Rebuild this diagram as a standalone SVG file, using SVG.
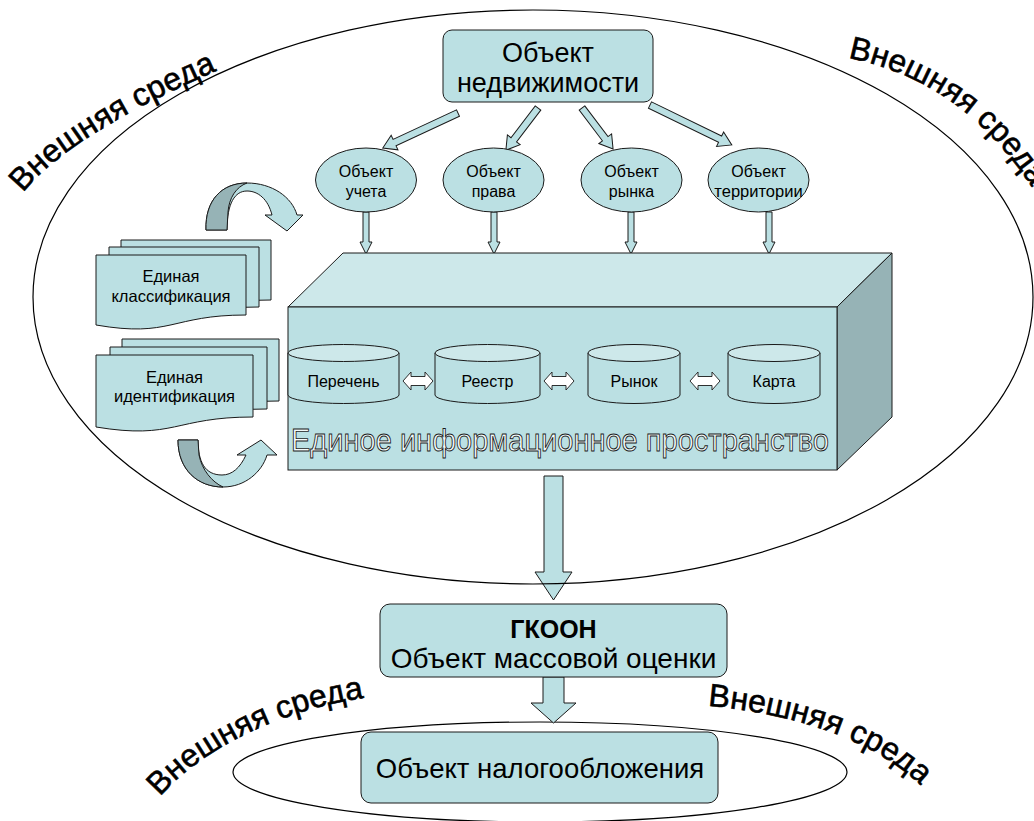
<svg xmlns="http://www.w3.org/2000/svg" width="1034" height="821" viewBox="0 0 1034 821">
  <style>
    .fill { fill: #BBE0E3; stroke: #1a1a1a; stroke-width: 1; }
    .top { fill: #CDE8EA; stroke: #1a1a1a; stroke-width: 1; }
    .side { fill: #96B3B6; stroke: #1a1a1a; stroke-width: 1; }
    .dark { fill: #96B3B6; stroke: #1a1a1a; stroke-width: 1; }
    .line { fill: none; stroke: #000; stroke-width: 1.2; }
    .t { font-family: "Liberation Sans", Arial, sans-serif; fill: #000; text-anchor: middle; }
    .env { font-family: "Liberation Sans", Arial, sans-serif; font-size: 32px; fill: #000; stroke: #000; stroke-width: 0.6; }
    .dbl { fill: #fff; stroke: #1a1a1a; stroke-width: 0.9; }
  </style>
  <defs>
    <path id="envTL" d="M23,193 C60,145 150,100 214,72"/>
    <path id="envTR" d="M848,58 C925,73 990,118 1040,200"/>
    <path id="envBL" d="M160,797 C200,750 280,710 364,698"/>
    <path id="envBR" d="M708,706 C780,712 870,735 922,787"/>
    <!-- two-headed outline arrow centred on the origin -->
    <path id="dblArrow" d="M-15,0 L-7,-9 L-7,-4.5 L7,-4.5 L7,-9 L15,0 L7,9 L7,4.5 L-7,4.5 L-7,9 Z"/>
  </defs>

  <rect x="0" y="0" width="1034" height="821" fill="#fff"/>

  <!-- lower environment ellipse -->
  <ellipse class="line" cx="540" cy="772" rx="307" ry="50"/>

  <!-- connectors -->
  <g id="connectors">
    <!-- from real estate object to the four views -->
    <path class="fill" transform="translate(458,113) rotate(155)" d="M0,-3.5 H70 V-8 L83,0 L70,8 V3.5 H0 Z"/>
    <path class="fill" transform="translate(538,108) rotate(127.3)" d="M0,-3.5 H40 V-8 L53,0 L40,8 V3.5 H0 Z"/>
    <path class="fill" transform="translate(582,108) rotate(52.9)" d="M0,-3.5 H38.5 V-8 L51.5,0 L38.5,8 V3.5 H0 Z"/>
    <path class="fill" transform="translate(650,105) rotate(26)" d="M0,-3.5 H78 V-8 L91,0 L78,8 V3.5 H0 Z"/>
    <!-- views into the information space -->
    <path class="fill" d="M363,212 H369 V242 H372 L366,254 L360,242 H363 Z"/>
    <path class="fill" d="M491,212 H497 V242 H500 L494,254 L488,242 H491 Z"/>
    <path class="fill" d="M628,212 H634 V242 H637 L631,254 L625,242 H628 Z"/>
    <path class="fill" d="M766,212 H772 V242 H775 L769,254 L763,242 H766 Z"/>
    <!-- information space to mass valuation -->
    <path class="fill" d="M544,476 H563 V572 H572 L553.5,600 L535,572 H544 Z"/>
    <!-- mass valuation to taxation -->
    <path class="fill" d="M543,677 H564 V703 H576 L553.5,723 L531,703 H543 Z"/>
    <!-- curved cycle arrows -->
    <g id="cycle-top">
      <path class="fill" d="M206,230 C205,200 222,183 247,183 C272,183 292,197 297,215 L303,215 L287,231 L265,215 L272,215 C268,199 258,191 247,191 C235,191 227,203 227,230 Z"/>
      <path class="dark" d="M206,230 C205,200 222,183 247,183 C236,187 229,198 228,212 L227,230 Z"/>
    </g>
    <g id="cycle-bottom">
      <path class="fill" d="M178,440 C178,470 198,487 223,487 C245,487 262,472 267,455 L277,455 L261,440 L237,455 L246,455 C240,468 232,475 222,475 C205,475 198,462 198,440 Z"/>
      <path class="dark" d="M178,440 C178,470 198,487 223,487 C212,482 202,470 199,455 L198,440 Z"/>
    </g>
  </g>

  <!-- outer environment ellipse -->
  <ellipse class="line" cx="533" cy="297" rx="500" ry="287"/>

  <g id="node-real-estate">
    <rect class="fill" x="443" y="30" width="210" height="72" rx="9"/>
    <text class="t" x="548" y="62" font-size="27">Объект</text>
    <text class="t" x="548" y="92" font-size="27">недвижимости</text>
  </g>

  <g id="node-accounting">
    <ellipse class="fill" cx="366" cy="180" rx="50.5" ry="32"/>
    <text class="t" x="366" y="177" font-size="16">Объект</text>
    <text class="t" x="366" y="197" font-size="16">учета</text>
  </g>
  <g id="node-right">
    <ellipse class="fill" cx="493.5" cy="180" rx="50.5" ry="32"/>
    <text class="t" x="493.5" y="177" font-size="16">Объект</text>
    <text class="t" x="493.5" y="197" font-size="16">права</text>
  </g>
  <g id="node-market">
    <ellipse class="fill" cx="631.5" cy="180" rx="50.5" ry="32"/>
    <text class="t" x="631.5" y="177" font-size="16">Объект</text>
    <text class="t" x="631.5" y="197" font-size="16">рынка</text>
  </g>
  <g id="node-territory">
    <ellipse class="fill" cx="758.5" cy="180" rx="50.5" ry="32"/>
    <text class="t" x="758.5" y="177" font-size="16">Объект</text>
    <text class="t" x="758.5" y="197" font-size="16.5">территории</text>
  </g>

  <g id="node-classification">
    <path class="fill" d="M121,240 H271 V300 C196,300 196,323 121,310 Z"/>
    <path class="fill" d="M109,247 H259 V307 C184,307 184,330 109,317 Z"/>
    <path class="fill" d="M96,255 H246 V315 C171,315 171,338 96,325 Z"/>
    <text class="t" x="171" y="282" font-size="16.5">Единая</text>
    <text class="t" x="171" y="302" font-size="16.5">классификация</text>
  </g>

  <g id="node-identification">
    <path class="fill" d="M122,339 H279 V401 C200.5,401 200.5,424 122,411 Z"/>
    <path class="fill" d="M110,347 H267 V409 C188.5,409 188.5,432 110,419 Z"/>
    <path class="fill" d="M96,355 H253 V417 C174.5,417 174.5,440 96,427 Z"/>
    <text class="t" x="174.5" y="383" font-size="16.5">Единая</text>
    <text class="t" x="174.5" y="402" font-size="16.5">идентификация</text>
  </g>

  <g id="node-info-space">
    <polygon class="top" points="288,307 343,253 892,253 837,307"/>
    <polygon class="side" points="837,307 892,253 892,417 837,470"/>
    <rect class="fill" x="288" y="307" width="549" height="163"/>
    <g id="db-list">
      <path class="fill" d="M288,353 V395 A55.5,8.5 0 0 0 399,395 V353 Z"/>
      <ellipse class="top" cx="343.5" cy="353" rx="55.5" ry="8.5"/>
      <text class="t" x="343.5" y="387" font-size="16">Перечень</text>
    </g>
    <g id="db-register">
      <path class="fill" d="M435,353 V395 A52.5,8.5 0 0 0 540,395 V353 Z"/>
      <ellipse class="top" cx="487.5" cy="353" rx="52.5" ry="8.5"/>
      <text class="t" x="487.5" y="387" font-size="16">Реестр</text>
    </g>
    <g id="db-market">
      <path class="fill" d="M588,353 V395 A46,8.5 0 0 0 680,395 V353 Z"/>
      <ellipse class="top" cx="634" cy="353" rx="46" ry="8.5"/>
      <text class="t" x="634" y="387" font-size="16">Рынок</text>
    </g>
    <g id="db-map">
      <path class="fill" d="M728,353 V395 A46,8.5 0 0 0 820,395 V353 Z"/>
      <ellipse class="top" cx="774" cy="353" rx="46" ry="8.5"/>
      <text class="t" x="774" y="387" font-size="16">Карта</text>
    </g>
    <text x="291" y="451" font-family="Liberation Sans, Arial, sans-serif" font-size="32" fill="#f4fbfb" stroke="#1a1a1a" stroke-width="0.9" textLength="538" lengthAdjust="spacingAndGlyphs">Единое информационное пространство</text>
  </g>

  <!-- links between registers -->
  <g id="register-links">
    <use href="#dblArrow" class="dbl" x="418" y="381"/>
    <use href="#dblArrow" class="dbl" x="559" y="381"/>
    <use href="#dblArrow" class="dbl" x="705" y="381"/>
  </g>

  <g id="node-mass-valuation">
    <rect class="fill" x="380" y="604" width="347" height="73" rx="10"/>
    <text class="t" x="553.5" y="638" font-size="25" font-weight="bold">ГКООН</text>
    <text class="t" x="553.5" y="668" font-size="28">Объект массовой оценки</text>
  </g>

  <g id="node-taxation">
    <rect class="fill" x="361" y="732" width="357" height="71" rx="10"/>
    <text class="t" x="540" y="778" font-size="27.5">Объект налогообложения</text>
  </g>

  <g id="environment-labels">
    <text class="env"><textPath href="#envTL">Внешняя среда</textPath></text>
    <text class="env"><textPath href="#envTR">Внешняя среда</textPath></text>
    <text class="env"><textPath href="#envBL">Внешняя среда</textPath></text>
    <text class="env"><textPath href="#envBR">Внешняя среда</textPath></text>
  </g>
</svg>
